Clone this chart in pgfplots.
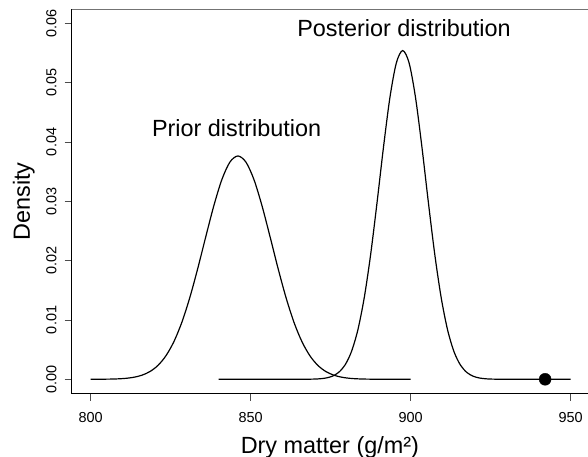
\documentclass[border=0pt]{standalone}
\usepackage{fontspec}
\setmainfont{Liberation Sans}
\usepackage{pgfplots}
\pgfplotsset{compat=1.18}
\usetikzlibrary{calc}

\begin{document}
\begin{tikzpicture}
\begin{axis}[
  scale only axis,
  width=516.3bp, height=384.4bp,
  xmin=794.06, xmax=955.4,
  ymin=-0.00243, ymax=0.06236,
  axis x line*=bottom, axis y line*=left,
  axis line style={line width=1.5bp,-},
  xtick={800,850,900,950},
  ytick={0,0.01,0.02,0.03,0.04,0.05,0.06},
  scaled y ticks=false,
  tick align=outside,
  major tick length=7bp,
  tick style={line width=0.6bp,black!70},
  /pgf/number format/assume math mode=true,
  ticklabel style={font=\fontsize{14.5}{16}\selectfont, inner sep=0pt},
  xticklabel style={anchor=north, yshift=-12bp},
  yticklabel style={xshift=-8bp, rotate=90, anchor=south,
    /pgf/number format/fixed, /pgf/number format/fixed zerofill,
    /pgf/number format/precision=2},
  label style={font=\fontsize{23.5}{26}\selectfont},
  xlabel={Dry matter (g/m²)},
  xlabel style={at={(axis description cs:0.5,0)}, anchor=base, yshift=-59.3bp},
  ylabel={Density},
  ylabel style={at={($(axis description cs:0,0.5)+(-41.7bp,0)$)}, anchor=base},
  clip=false,
]
% prior
\addplot[black, line width=1.2bp, smooth] coordinates {
  (800,0) (801,0.0000046) (806,0.0000304) (808.5,0.0000721) (811,0.000161)
  (813.5,0.000342) (816,0.000686) (818.5,0.00130) (821,0.00233) (823.5,0.00396)
  (826,0.00635) (828.5,0.00963) (831,0.01383) (833.5,0.01878) (836,0.02412)
  (838.5,0.02930) (841,0.03368) (843.5,0.03661) (846,0.03764) (848.5,0.03661)
  (851,0.03368) (853.5,0.02930) (856,0.02412) (858.5,0.01878) (861,0.01383)
  (863.5,0.00963) (866,0.00635) (868.5,0.00396) (871,0.00233) (873.5,0.00130)
  (876,0.000686) (878.5,0.000342) (881,0.000161) (883.5,0.0000721) (886,0.0000304)
  (891,0.0000046) (895,0) (900,0)
};
% posterior
\addplot[black, line width=1.2bp, smooth] coordinates {
  (840,0) (850,0) (860,0) (865.5,0.0000028) (869.5,0.0000288) (871.5,0.0000817)
  (873.5,0.000214) (875.5,0.000520) (877.5,0.00117) (879.5,0.00243) (881.5,0.00469)
  (883.5,0.00837) (885.5,0.01382) (887.5,0.02112) (889.5,0.02989) (891.5,0.03916)
  (893.5,0.04749) (895.5,0.05331) (897.5,0.05541) (899.5,0.05331) (901.5,0.04749)
  (903.5,0.03916) (905.5,0.02989) (907.5,0.02112) (909.5,0.01382) (911.5,0.00837)
  (913.5,0.00469) (915.5,0.00243) (917.5,0.00117) (919.5,0.000520) (921.5,0.000214)
  (923.5,0.0000817) (925.5,0.0000288) (929.5,0.0000028) (935,0) (940,0) (950,0)
};
% observation
\addplot[only marks, mark=*, mark size=6bp, black] coordinates {(942,0)};
\node[anchor=base, font=\fontsize{23.5}{26}\selectfont] at (axis cs:845.6,0.04089) {Prior distribution};
\node[anchor=base, font=\fontsize{23.5}{26}\selectfont] at (axis cs:897.9,0.05774) {Posterior distribution};
\draw[black!55, line width=0.7bp] (rel axis cs:0,1) -- (rel axis cs:1,1);
\coordinate (bl) at (rel axis cs:0,0);
\coordinate (tr) at (rel axis cs:1,1);
\end{axis}
\pgfresetboundingbox
\path[use as bounding box] ($(bl)+(-71.7bp,-63.3bp)$) rectangle ($(tr)+(0,9.3bp)$);
\end{tikzpicture}
\end{document}
